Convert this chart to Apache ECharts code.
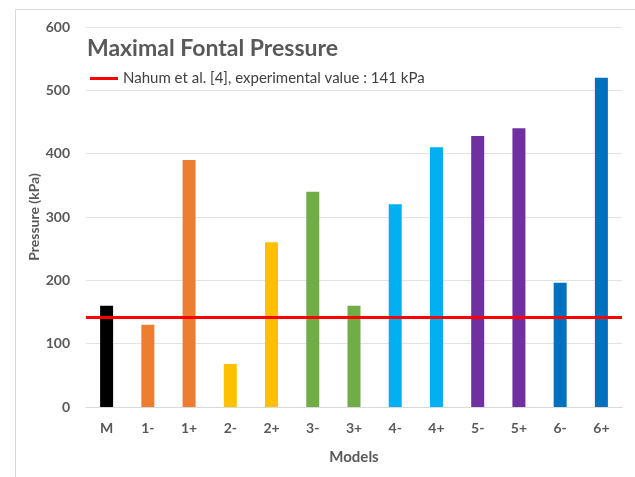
<!DOCTYPE html>
<html><head><meta charset="utf-8">
<script src="https://cdn.jsdelivr.net/npm/echarts@6/dist/echarts.min.js"></script>
<style>html,body{margin:0;padding:0;background:#fff}#c{width:635px;height:477px}</style>
</head><body><div id="c"></div>
<script>
const categories = ['M','1-','1+','2-','2+','3-','3+','4-','4+','5-','5+','6-','6+'];
const pressures = [160,130,390,68,260,340,160,320,410,428,440,196,520];
const barColors = ['#000000','#ED7D31','#ED7D31','#FFC000','#FFC000','#70AD47','#70AD47','#00B0F0','#00B0F0','#7030A0','#7030A0','#0070C0','#0070C0'];
const referenceValue = 141;
const referenceName = 'Nahum et al. [4], experimental value : 141 kPa';
const yTicks = {min:0, max:600, interval:100};

const font = 'Lato, "Open Sans", sans-serif';
const chart = echarts.init(document.getElementById('c'), null, {renderer:'canvas'});
chart.setOption({
  animation:false,
  backgroundColor:'#fff',
  graphic:[{type:'rect', shape:{x:15.5,y:9.5,width:700,height:500}, style:{fill:'none', stroke:'#d9d9d9', lineWidth:1}, silent:true}],
  title:{text:'Maximal Fontal Pressure', left:82, top:32, textStyle:{fontFamily:font, fontSize:23, fontWeight:'bold', color:'#595959'}},
  legend:{left:85, top:66, icon:'rect', itemWidth:28, itemHeight:3, itemGap:9,
    textStyle:{fontFamily:font, fontSize:15, color:'#404040'},
    data:[{name:referenceName, itemStyle:{color:'#FF0000'}}]},
  grid:{left:86, right:13, top:27, bottom:70, containLabel:false},
  xAxis:{type:'category', data:categories, name:'Models', nameLocation:'middle', nameGap:43, nameMoveOverlap:false,
    nameTextStyle:{fontFamily:font, fontSize:15, fontWeight:'bold', color:'#595959'},
    axisLine:{lineStyle:{color:'#d9d9d9'}}, axisTick:{show:false},
    axisLabel:{fontFamily:font, fontSize:14, fontWeight:'bold', color:'#595959', margin:14}},
  yAxis:{type:'value', min:yTicks.min, max:yTicks.max, interval:yTicks.interval,
    name:'Pressure (kPa)', nameLocation:'middle', nameGap:45, nameRotate:90, nameMoveOverlap:false,
    nameTextStyle:{fontFamily:font, fontSize:14, fontWeight:'bold', color:'#595959'},
    axisLine:{show:false}, axisTick:{show:false},
    splitLine:{lineStyle:{color:'#e3e3e3', width:1}},
    axisLabel:{fontFamily:font, fontSize:14, fontWeight:'bold', color:'#595959', margin:16}},
  series:[
    {type:'bar', barWidth:13,
      data:pressures.map((v,i)=>({value:v, itemStyle:{color:barColors[i]}})),
      markLine:{silent:true, symbol:'none', label:{show:false},
        lineStyle:{color:'#FF0000', width:3, type:'solid'},
        data:[{yAxis:referenceValue}]}},
    {type:'line', name:referenceName, data:[], itemStyle:{color:'#FF0000'}, lineStyle:{color:'#FF0000'}}
  ]
});
</script></body></html>
